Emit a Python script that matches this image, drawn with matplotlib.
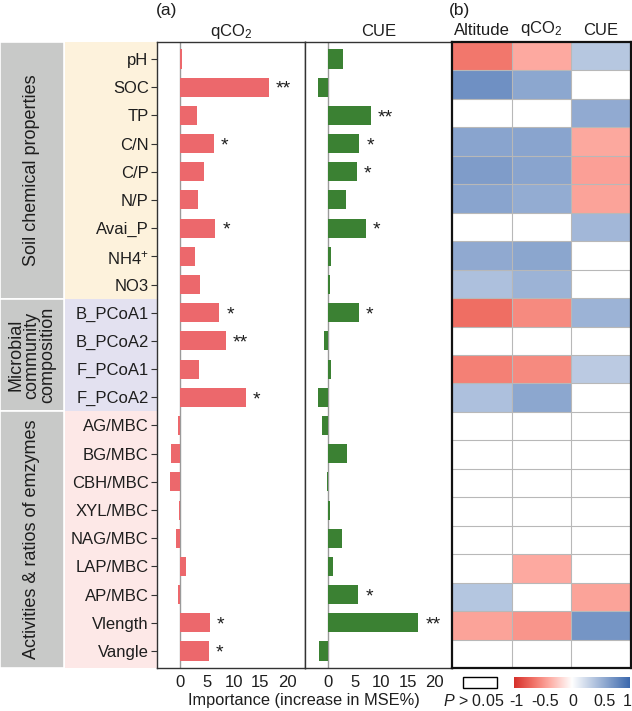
import numpy as np
import matplotlib
matplotlib.use("Agg")
import matplotlib.pyplot as plt
from matplotlib.colors import LinearSegmentedColormap
from matplotlib.patches import Rectangle

plt.rcParams['font.family'] = ['Liberation Sans', 'DejaVu Sans']
plt.rcParams['mathtext.fontset'] = 'custom'
plt.rcParams['mathtext.rm'] = 'Liberation Sans'
plt.rcParams['mathtext.it'] = 'Liberation Sans:italic'

# ---------------- data ----------------
variables = ["pH", "SOC", "TP", "C/N", "C/P", "N/P", "Avai_P", r"NH4$^{+}$", "NO3",
             "B_PCoA1", "B_PCoA2", "F_PCoA1", "F_PCoA2",
             "AG/MBC", "BG/MBC", "CBH/MBC", "XYL/MBC", "NAG/MBC", "LAP/MBC", "AP/MBC",
             "Vlength", "Vangle"]
groups = ["Soil chemical properties", "Microbial\ncommunity\ncomposition",
          "Activities & ratios of emzymes"]
group_sizes = [9, 4, 9]

qco2_imp = [0.4, 16.6, 3.2, 6.3, 4.5, 3.4, 6.6, 2.8, 3.7,
            7.3, 8.5, 3.6, 12.3,
            -0.3, -1.6, -1.8, -0.25, -0.8, 1.2, -0.3, 5.5, 5.4]
qco2_sig = ["", "**", "", "*", "", "", "*", "", "",
            "*", "**", "", "*",
            "", "", "", "", "", "", "", "*", "*"]
cue_imp = [2.8, -1.9, 8.1, 5.9, 5.5, 3.4, 7.1, 0.5, 0.45,
           5.8, -0.8, 0.5, -1.9,
           -1.2, 3.6, -0.1, 0.3, 2.6, 0.9, 5.7, 17.0, -1.7]
cue_sig = ["", "", "**", "*", "*", "", "*", "", "",
           "*", "", "", "",
           "", "", "", "", "", "", "*", "**", ""]

heat_cols = ["Altitude", r"qCO$_2$", "CUE"]
nan = np.nan
corr_altitude = [-0.64, 0.73, nan, 0.60, 0.65, 0.60, nan, 0.57, 0.42,
                 -0.68, nan, -0.60, 0.42,
                 nan, nan, nan, nan, nan, nan, 0.38, -0.43, nan]
corr_qco2 = [-0.40, 0.58, nan, 0.60, 0.60, 0.55, nan, 0.59, 0.50,
             -0.55, nan, -0.55, 0.58,
             nan, nan, nan, nan, nan, -0.40, nan, -0.50, nan]
corr_cue = [0.37, nan, 0.56, -0.41, -0.45, -0.43, 0.47, nan, nan,
            0.50, nan, 0.35, nan,
            nan, nan, nan, nan, nan, nan, -0.43, 0.70, nan]

# ---------------- layout helpers ----------------
W, H = 632, 711
fig = plt.figure(figsize=(W / 100, H / 100), dpi=100)


def rect(x0, y0, x1, y1):
    return [x0 / W, 1 - y1 / H, (x1 - x0) / W, (y1 - y0) / H]


def ftext(x, y, s, **kw):
    fig.text(x / W, 1 - y / H, s, **kw)


TOP, BOT = 42, 668
n = len(variables)
ypos = np.arange(n)
bar_ylim = (21.6, -0.6)

red = "#ec686c"
green = "#3b8133"
fs = 12
tc = "#1e1e1e"

# background label area
axbg = fig.add_axes(rect(0, TOP, 157, BOT))
axbg.set_xlim(0, 157)
axbg.set_ylim(*bar_ylim)
axbg.axis("off")
bg_cols = ["#fdf2dc", "#e3e1f0", "#fde8e7"]
start = 0
for g, sz, c in zip(groups, group_sizes, bg_cols):
    y0 = start - 0.5
    y1 = start + sz - 0.5
    if start == 0:
        y0 = bar_ylim[1]
    if start + sz == n:
        y1 = bar_ylim[0]
    axbg.add_patch(Rectangle((0, y0), 64, y1 - y0, facecolor="#c8c9c8",
                             edgecolor="white", lw=1.2))
    axbg.add_patch(Rectangle((65, y0), 92, y1 - y0, facecolor=c,
                             edgecolor="none"))
    axbg.text(32, (y0 + y1) / 2, g, rotation=90, ha="center", va="center",
              fontsize=13, linespacing=0.92, color=tc)
    start += sz

# ---------------- bar panels ----------------
ax1 = fig.add_axes(rect(157, TOP, 305, BOT))
ax2 = fig.add_axes(rect(305, TOP, 452, BOT))
for ax, vals, sig, col, title in [(ax1, qco2_imp, qco2_sig, red, r"qCO$_2$"),
                                   (ax2, cue_imp, cue_sig, green, "CUE")]:
    ax.barh(ypos, vals, height=0.68, color=col, edgecolor="none", zorder=3)
    ax.axvline(0, color="#9a9a9a", lw=1, zorder=2)
    ax.set_xlim(-4.3, 23.3)
    ax.set_ylim(*bar_ylim)
    ax.set_xticks([0, 5, 10, 15, 20])
    ax.tick_params(axis="x", length=0, labelsize=fs, pad=5, colors=tc)
    for s in ax.spines.values():
        s.set_color("#333333")
        s.set_linewidth(1)
    for y, v, s in zip(ypos, vals, sig):
        if s:
            ax.text(max(v, 0) + 1.3, y + 0.08, s, ha="left", va="center",
                    fontsize=14, color=tc)
    ax.set_title(title, fontsize=fs, pad=4, color=tc)

ax1.set_yticks(ypos)
ax1.set_yticklabels(variables, fontsize=fs, color=tc)
ax1.tick_params(axis="y", length=4, width=0.8, pad=2, color="#333333")
ax2.set_yticks([])

# ---------------- heatmap ----------------
ax3 = fig.add_axes(rect(452, TOP, 631, BOT))
cmap = LinearSegmentedColormap.from_list(
    "rb", [(0.0, "#d6302b"), (0.175, "#f2756a"), (0.3, "#fdaaa1"),
           (0.5, "#ffffff"), (1.0, "#3b68ad")])
cmap.set_bad("white")
mat = np.array([corr_altitude, corr_qco2, corr_cue]).T
ax3.pcolormesh(np.arange(4), np.arange(n + 1),
               np.ma.masked_invalid(mat), cmap=cmap, vmin=-1, vmax=1)
ax3.set_xlim(0, 3)
ax3.set_ylim(n, 0)
for i in range(1, n):
    ax3.axhline(i, color="#b8b8b8", lw=0.8)
for j in range(1, 3):
    ax3.axvline(j, color="#b8b8b8", lw=0.8)
ax3.set_xticks([])
ax3.set_yticks([])
for s in ax3.spines.values():
    s.set_color("#111111")
    s.set_linewidth(1.6)
for j, c in enumerate(heat_cols):
    ax3.text(j + 0.5, -0.14, c, ha="center", va="bottom", fontsize=fs,
             color=tc)

# ---------------- headers & labels ----------------
ftext(167, 11, "(a)", ha="center", va="center", fontsize=12.5, color=tc)
ftext(460, 11, "(b)", ha="center", va="center", fontsize=12.5, color=tc)
ftext(304, 701, "Importance (increase in MSE%)", ha="center", va="center",
      fontsize=11.8, color=tc)

# legend: P > 0.05 box
fig.patches.append(Rectangle((463 / W, 1 - 688 / H), 34 / W, 11 / H,
                             transform=fig.transFigure, facecolor="white",
                             edgecolor="black", lw=1))
ftext(474, 701, r"$P$ > 0.05", ha="center", va="center", fontsize=11.5,
      color=tc)

# colorbar
axc = fig.add_axes(rect(514, 677, 630, 688))
grad = np.linspace(-1, 1, 256).reshape(1, -1)
axc.imshow(grad, cmap=cmap, vmin=-1, vmax=1, aspect="auto",
           extent=[-1, 1, 0, 1])
axc.set_yticks([])
axc.set_xticks([])
for s in axc.spines.values():
    s.set_visible(False)
cb_ticks = ["-1", "-0.5", "0", "0.5", "1"]
cb_x = [516, 545, 573, 604, 627]
for x, t in zip(cb_x, cb_ticks):
    ftext(x, 701, t, ha="center", va="center", fontsize=11.5, color=tc)

fig.savefig("out.png", dpi=100)
